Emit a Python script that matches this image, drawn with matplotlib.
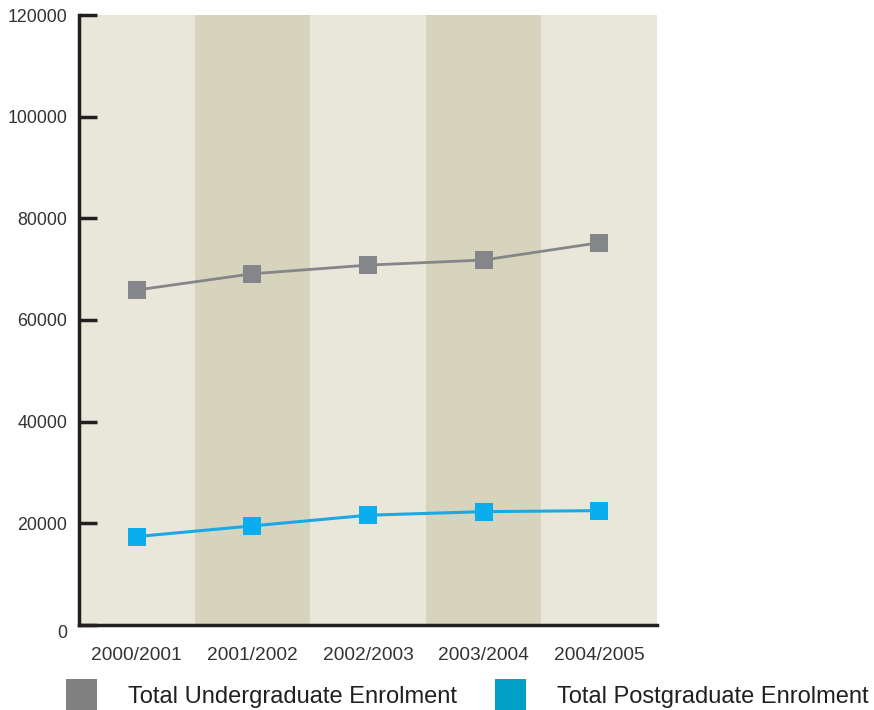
import matplotlib
matplotlib.use("Agg")
import matplotlib.pyplot as plt
from matplotlib.patches import Rectangle

years = ["2000/2001", "2001/2002", "2002/2003", "2003/2004", "2004/2005"]
undergrad = [65900, 69100, 70800, 71800, 75200]
postgrad = [17400, 19500, 21600, 22300, 22500]
series_names = ["Total Undergraduate Enrolment", "Total Postgraduate Enrolment"]
y_ticks = [0, 20000, 40000, 60000, 80000, 100000, 120000]

_BAND_LIGHT = "#e9e7da"
_BAND_DARK = "#d6d4bd"
_UG_COLOR = "#85868a"
_PG_LINE = "#1aa9e6"
_PG_MARK = "#0aaeee"
_UG_LEGEND = "#808080"
_PG_LEGEND = "#009fc6"
_INK = "#231f20"

plt.rcParams["font.family"] = ["Liberation Sans", "DejaVu Sans"]

fig = plt.figure(figsize=(8.74, 7.10), dpi=100)
ax = fig.add_axes([79 / 874, 1 - 625 / 710, (657 - 79) / 874, (625 - 15) / 710])

xs = list(range(len(years)))
for i in xs:
    ax.axvspan(i - 0.5, i + 0.5, color=_BAND_DARK if i % 2 else _BAND_LIGHT, lw=0, zorder=0)

ax.plot(xs, undergrad, color=_UG_COLOR, lw=2, marker="s", ms=12.5,
        markerfacecolor=_UG_COLOR, markeredgewidth=0, zorder=3)
ax.plot(xs, postgrad, color=_PG_LINE, lw=2.2, marker="s", ms=12.5,
        markerfacecolor=_PG_MARK, markeredgewidth=0, zorder=3)

ax.set_xlim(-0.5, len(years) - 0.5)
ax.set_ylim(0, 120000)
ax.set_yticks(y_ticks, [str(v) for v in y_ticks])
ax.set_xticks(xs, years)
for side in ("top", "right"):
    ax.spines[side].set_visible(False)
for side in ("left", "bottom"):
    ax.spines[side].set_linewidth(2.5)
    ax.spines[side].set_color(_INK)
ax.tick_params(axis="y", direction="in", length=13, width=2.5, color=_INK,
               labelsize=12.8, labelcolor="#333333", pad=8.5)
ax.tick_params(axis="x", length=0, labelsize=13.8, labelcolor="#333333", pad=16)
ax.get_yticklabels()[0].set_va("top")

# legend row below the axes
for x0, name, color in [(66, series_names[0], _UG_LEGEND), (495, series_names[1], _PG_LEGEND)]:
    fig.patches.append(Rectangle((x0 / 874, 0), 31 / 874, 31 / 710,
                                 transform=fig.transFigure, color=color, lw=0))
    fig.text((x0 + 62) / 874, 1 - 697 / 710, name, fontsize=17, color=_INK,
             va="center", ha="left")

fig.savefig("out.png", dpi=100)
